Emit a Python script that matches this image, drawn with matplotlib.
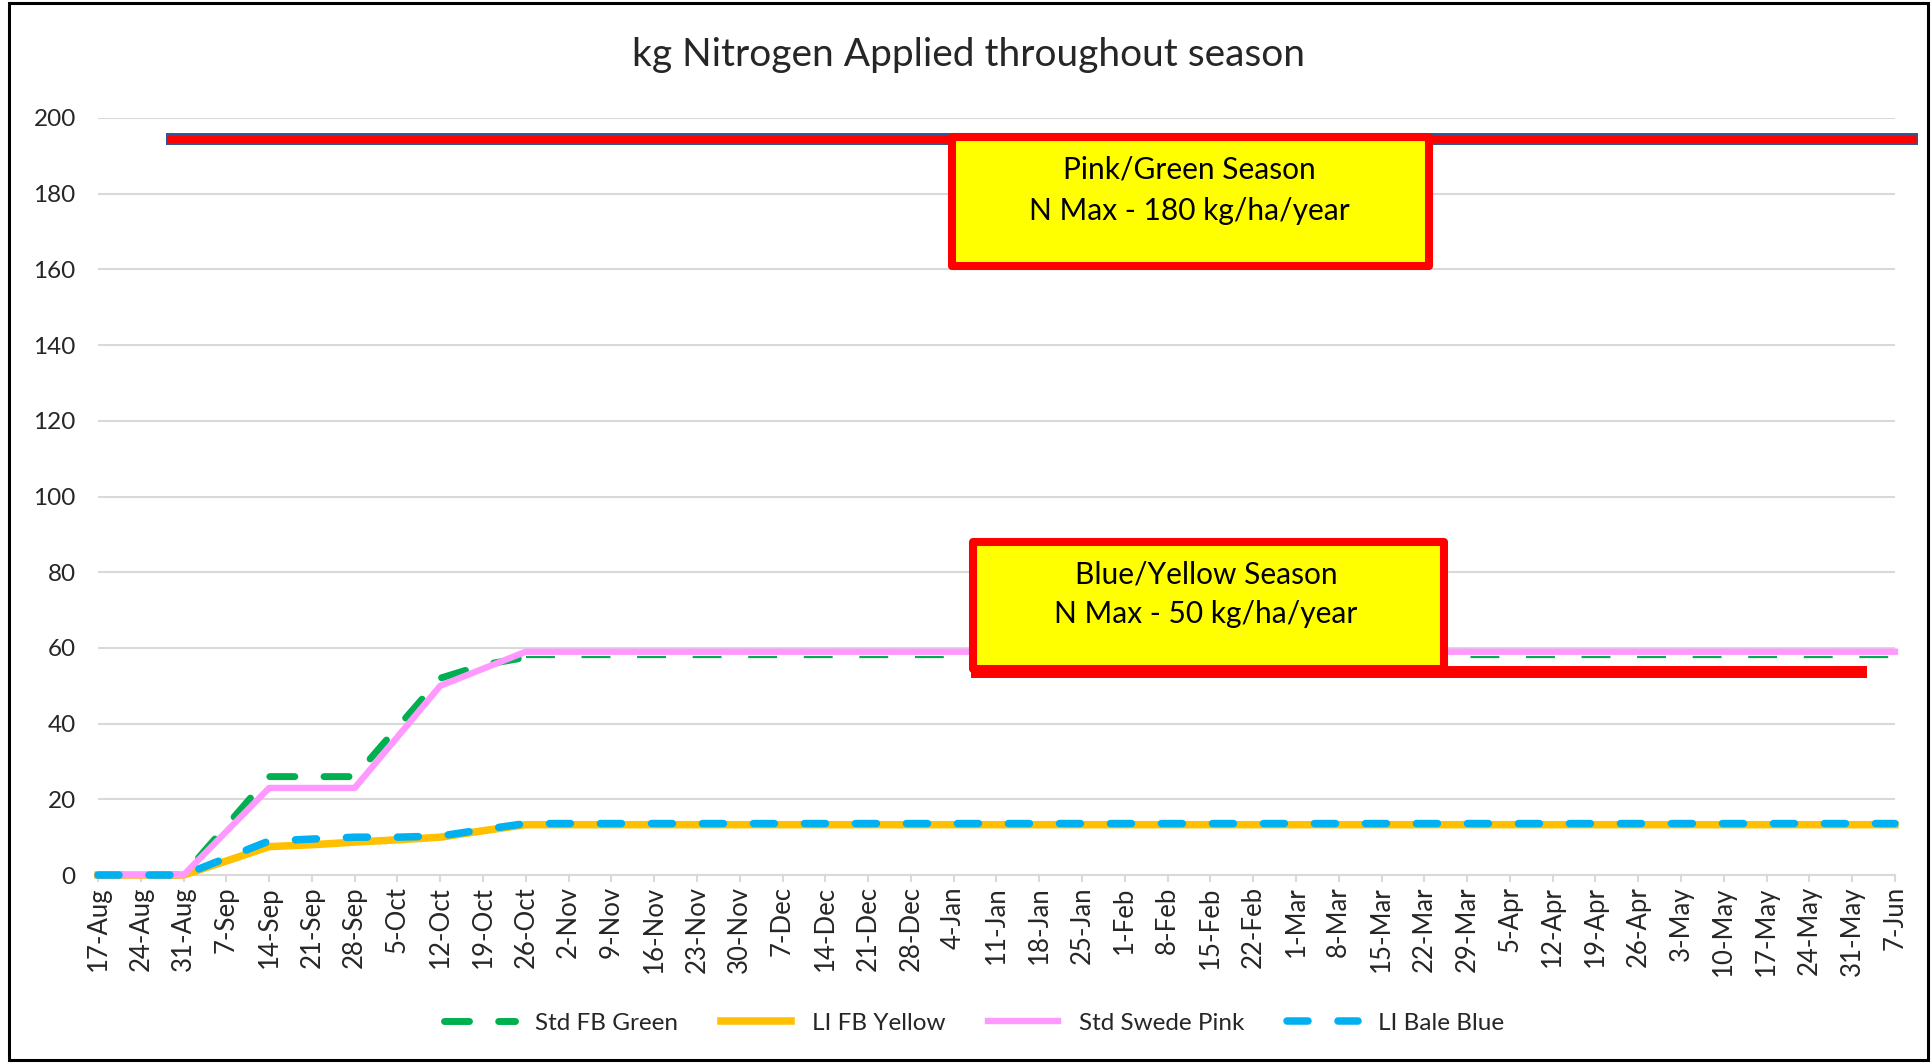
import matplotlib
matplotlib.use('Agg')
from matplotlib import pyplot as plt
from matplotlib.patches import Rectangle
from matplotlib.lines import Line2D

plt.rcParams['font.family'] = ['Lato', 'DejaVu Sans']

dates = ['17-Aug', '24-Aug', '31-Aug', '7-Sep', '14-Sep', '21-Sep', '28-Sep', '5-Oct',
         '12-Oct', '19-Oct', '26-Oct', '2-Nov', '9-Nov', '16-Nov', '23-Nov', '30-Nov',
         '7-Dec', '14-Dec', '21-Dec', '28-Dec', '4-Jan', '11-Jan', '18-Jan', '25-Jan',
         '1-Feb', '8-Feb', '15-Feb', '22-Feb', '1-Mar', '8-Mar', '15-Mar', '22-Mar',
         '29-Mar', '5-Apr', '12-Apr', '19-Apr', '26-Apr', '3-May', '10-May', '17-May',
         '24-May', '31-May', '7-Jun']

std_fb_green = [0, 0, 0, 13, 26, 26, 26, 39, 52, 55.5, 57.5,
                57.5, 57.5, 57.5, 57.5, 57.5, 57.5, 57.5, 57.5, 57.5, 57.5, 57.5,
                57.5, 57.5, 57.5, 57.5, 57.5, 57.5, 57.5, 57.5, 57.5, 57.5, 57.5,
                57.5, 57.5, 57.5, 57.5, 57.5, 57.5, 57.5, 57.5, 57.5, 57.5]
li_fb_yellow = [0, 0, 0, 3.7, 7.5, 8, 8.7, 9.3, 10, 11.7, 13.3,
                13.3, 13.3, 13.3, 13.3, 13.3, 13.3, 13.3, 13.3, 13.3, 13.3, 13.3,
                13.3, 13.3, 13.3, 13.3, 13.3, 13.3, 13.3, 13.3, 13.3, 13.3, 13.3,
                13.3, 13.3, 13.3, 13.3, 13.3, 13.3, 13.3, 13.3, 13.3, 13.3]
std_swede_pink = [0, 0, 0, 11.5, 23, 23, 23, 36.5, 50, 54.5, 59,
                  59, 59, 59, 59, 59, 59, 59, 59, 59, 59, 59, 59, 59, 59, 59, 59,
                  59, 59, 59, 59, 59, 59, 59, 59, 59, 59, 59, 59, 59, 59, 59, 59]
li_bale_blue = [0, 0, 0, 4.5, 9, 9.5, 10, 10, 10.3, 12, 13.6,
                13.6, 13.6, 13.6, 13.6, 13.6, 13.6, 13.6, 13.6, 13.6, 13.6, 13.6,
                13.6, 13.6, 13.6, 13.6, 13.6, 13.6, 13.6, 13.6, 13.6, 13.6, 13.6,
                13.6, 13.6, 13.6, 13.6, 13.6, 13.6, 13.6, 13.6, 13.6, 13.6]

GREEN = '#00B050'
YELLOW = '#FFC000'
PINK = '#FF99FF'
BLUE = '#00B0F0'
GRID = '#D9D9D9'
TXT = '#262626'

fig = plt.figure(figsize=(19.33, 10.64), dpi=100)
ax = fig.add_axes([0.0507, 0.1776, 0.9296, 0.7115])

x = list(range(len(dates)))
split = dates.index('26-Oct')

# green: thick dashes until 26-Oct, thin after
ax.plot(x[:split + 1], std_fb_green[:split + 1], color=GREEN, lw=5,
        dashes=(3.6, 4.2), dash_capstyle='round', clip_on=False, zorder=3)
ax.plot(x[split:], std_fb_green[split:], color=GREEN, lw=1.6,
        dashes=(13, 12), clip_on=False, zorder=3)
ax.plot(x, li_fb_yellow, color=YELLOW, lw=5.4, solid_joinstyle='round', clip_on=False, zorder=4)
ax.plot(x, std_swede_pink, color=PINK, lw=4.6, solid_joinstyle='round', clip_on=False, zorder=5)
ax.plot(x, li_bale_blue, color=BLUE, lw=5.4, dashes=(2.8, 4.0), dash_capstyle='round',
        clip_on=False, zorder=6)

ax.set_xlim(0, len(dates) - 1)
ax.set_ylim(0, 200)
ax.set_yticks(range(0, 201, 20))
ax.set_xticks(x)
ax.set_xticklabels(dates, rotation=90)
ax.yaxis.grid(True, color=GRID, lw=1.5)
ax.set_axisbelow(True)
for s in ['top', 'right', 'left']:
    ax.spines[s].set_visible(False)
ax.spines['bottom'].set_color(GRID)
ax.spines['bottom'].set_linewidth(1.5)
ax.tick_params(axis='x', direction='out', length=5, width=1.5, color=GRID,
               labelsize=18.5, labelcolor=TXT, pad=3)
ax.tick_params(axis='y', length=0, labelsize=17.5, labelcolor=TXT, pad=16)

# max line drawn across the top
ax.plot([1.59, 42.55], [194.5, 194.5], color='#2F5597', lw=8.6, solid_capstyle='butt',
        clip_on=False, zorder=7)
ax.plot([1.62, 42.5], [194.5, 194.5], color='#FF0000', lw=5, solid_capstyle='butt',
        clip_on=False, zorder=8)

# red bar under blue/yellow box
ax.plot([20.4, 41.35], [53.6, 53.6], color='#FF0000', lw=8.6, solid_capstyle='butt',
        clip_on=False, zorder=8)

# annotation boxes
box1 = Rectangle((19.95, 160.8), 31.1 - 19.95, 195.0 - 160.8, facecolor='#FFFF00',
                 edgecolor='#FF0000', lw=5.8, joinstyle='round', zorder=9, clip_on=False)
box2 = Rectangle((20.45, 54.5), 31.45 - 20.45, 88.0 - 54.5, facecolor='#FFFF00',
                 edgecolor='#FF0000', lw=5.8, joinstyle='round', zorder=9, clip_on=False)
ax.add_patch(box1)
ax.add_patch(box2)
ax.text(25.5, 186.3, 'Pink/Green Season', ha='center', va='center', fontsize=21.5,
        color='black', zorder=10)
ax.text(25.5, 175.5, 'N Max - 180 kg/ha/year', ha='center', va='center', fontsize=21.5,
        color='black', zorder=10)
ax.text(25.9, 79.4, 'Blue/Yellow Season', ha='center', va='center', fontsize=21.5,
        color='black', zorder=10)
ax.text(25.9, 68.9, 'N Max - 50 kg/ha/year', ha='center', va='center', fontsize=21.5,
        color='black', zorder=10)

fig.text(0.501, 0.948, 'kg Nitrogen Applied throughout season', ha='center', va='center',
         fontsize=28, color=TXT)

handles = [
    Line2D([], [], color=GREEN, lw=5, dashes=(3.6, 4.2), dash_capstyle='round'),
    Line2D([], [], color=YELLOW, lw=5.4),
    Line2D([], [], color=PINK, lw=4.6),
    Line2D([], [], color=BLUE, lw=5.4, dashes=(2.8, 4.0), dash_capstyle='round'),
]
labels = ['Std FB Green', 'LI FB Yellow', 'Std Swede Pink', 'LI Bale Blue']
fig.legend(handles, labels, loc='center', bbox_to_anchor=(0.504, 0.0385), ncol=4,
           frameon=False, fontsize=17.5, handlelength=2.9, handletextpad=0.85,
           columnspacing=1.75, labelcolor=TXT)

# chart border
fig.patches.append(Rectangle((0.0047, 0.004), 0.9927, 0.993, transform=fig.transFigure,
                             fill=False, edgecolor='black', lw=2.2))

fig.savefig('out.png', dpi=100)
